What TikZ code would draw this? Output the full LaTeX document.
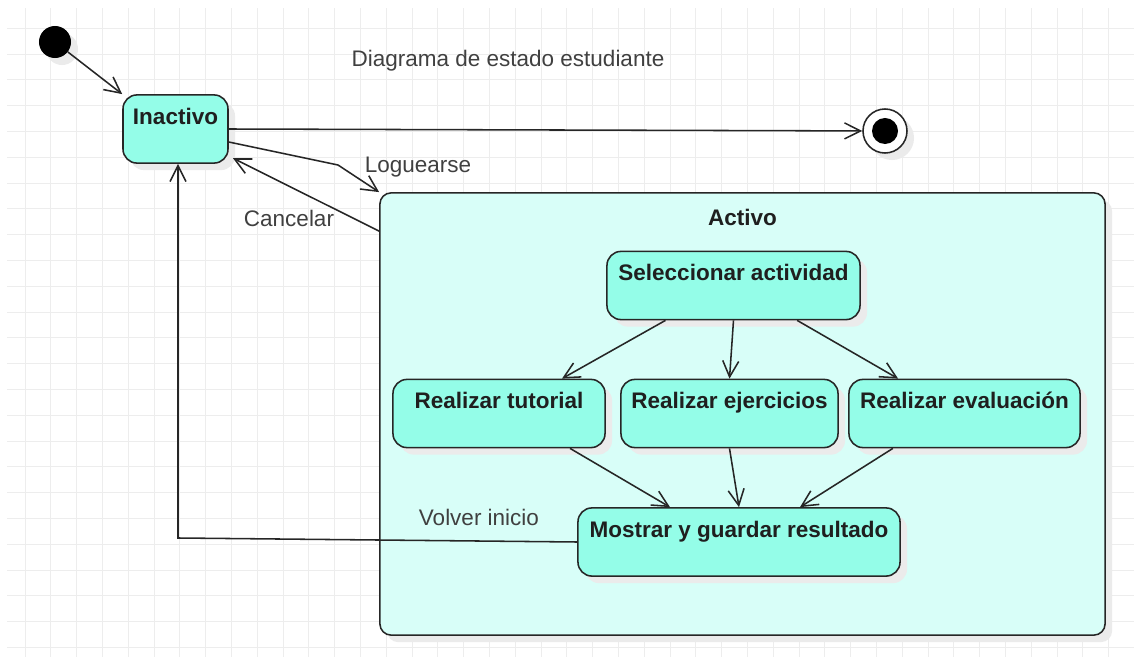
\documentclass[tikz,border=0pt]{standalone}
\usepackage{fontspec}
\setmainfont{Liberation Sans}
\usetikzlibrary{arrows.meta,shadows}
\definecolor{stfill}{HTML}{94FDE8}
\definecolor{actfill}{HTML}{D8FEF8}
\definecolor{gridc}{HTML}{EDEDED}
\definecolor{labc}{HTML}{404040}
\definecolor{edgec}{HTML}{262626}

\begin{document}
\begin{tikzpicture}[x=0.025cm, y=-0.025cm,
  shade box/.style={drop shadow={shadow xshift=5pt, shadow yshift=-5pt, fill=black!8, opacity=1}},
  state/.style={draw=edgec, line width=1.1pt, fill=stfill, rounded corners=10pt,
    font=\bfseries\fontsize{16}{19}\selectfont, text=black!88,
    text height=11.5pt, text depth=18pt, inner ysep=9.5pt, shade box},
  lab/.style={font=\fontsize{16}{19}\selectfont, text=labc},
  flow/.style={-{Straight Barb[length=4mm, width=4mm]}, line width=1.1pt, draw=edgec}
]
\useasboundingbox (0,0) rectangle (1134,657);
% background grid
\foreach \gx in {0,...,42}
  \draw[gridc, line width=0.6pt] ({25+25.8*\gx},8) -- ({25+25.8*\gx},657);
\foreach \gy in {0,...,24}
  \draw[gridc, line width=0.6pt] (7,{28.3+25.8*\gy}) -- (1134,{28.3+25.8*\gy});

\node[lab, text=black!75] (title) at (508,61) {Diagrama de estado estudiante};

\node[circle, fill=black, minimum size=0.8cm, inner sep=0pt, shade box] (start) at (55,42) {};
\node[state, minimum width=2.625cm] (inact) at (175.5,129) {Inactivo};
\node[circle, draw=edgec, fill=white, line width=1.1pt, minimum size=1.1cm, inner sep=0pt, shade box] (final) at (885,131) {};
\node[circle, fill=black, minimum size=0.65cm, inner sep=0pt] (finalin) at (final) {};

% composite state
\node[state, fill=actfill, rounded corners=8pt, minimum width=18.125cm,
  inner ysep=12pt, text depth=279pt] (activo) at (742.5,414) {Activo};
\node[state, minimum width=6.325cm] (sel) at (733.5,285.5) {Seleccionar actividad};
\node[state, minimum width=5.3cm] (tut) at (499,413.5) {Realizar tutorial};
\node[state, minimum width=5.425cm] (eje) at (729.5,413.5) {Realizar ejercicios};
\node[state, minimum width=5.775cm] (eva) at (964.5,413.5) {Realizar evaluación};
\node[state, minimum width=8.05cm] (mos) at (739,542) {Mostrar y guardar resultado};

\draw[flow] (start) -- (inact.north west);
\draw[flow] (inact.east) -- (final);

\coordinate (logbend) at (338,165);
\draw[flow] ([yshift=-0.325cm]inact.east) -- (logbend) -- (activo.north west);
\node[lab] (loglab) at (418,167) {Loguearse};
\draw[flow] ([yshift=-0.975cm]activo.north west) -- ([shift={(3pt,4pt)}]inact.south east);
\node[lab] (canlab) at (289,218) {Cancelar};

\draw[flow] ([xshift=-1.7cm]sel.south) -- ([xshift=1.575cm]tut.north);
\draw[flow] (sel.south) -- (eje.north);
\draw[flow] ([xshift=1.59cm]sel.south) -- ([xshift=-1.66cm]eva.north);
\draw[flow] ([xshift=1.775cm]tut.south) -- ([xshift=-1.725cm]mos.north);
\draw[flow] (eje.south) -- (mos.north);
\draw[flow] ([xshift=-1.79cm]eva.south) -- ([xshift=1.525cm]mos.north);

\coordinate (volbend) at (178,538);
\draw[flow] (mos.west) -- (volbend) -- (volbend |- inact.south);
\node[lab] (vollab) at (479,517) {Volver inicio};
\end{tikzpicture}
\end{document}
